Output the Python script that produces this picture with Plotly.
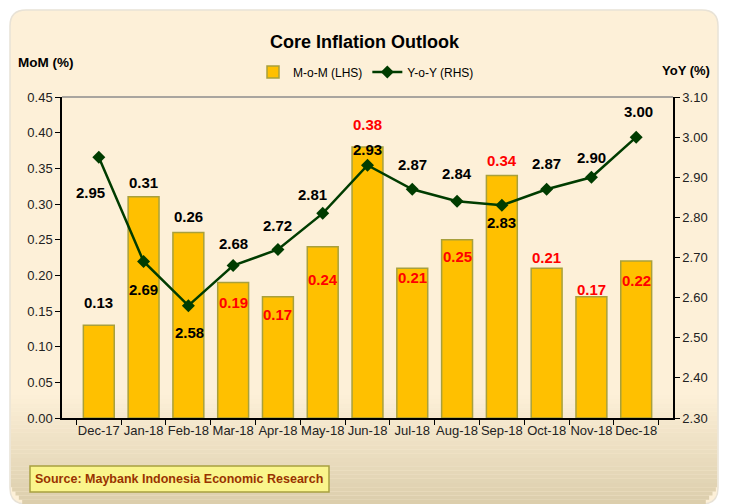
import plotly.graph_objects as go

months = ["Dec-17", "Jan-18", "Feb-18", "Mar-18", "Apr-18", "May-18", "Jun-18",
          "Jul-18", "Aug-18", "Sep-18", "Oct-18", "Nov-18", "Dec-18"]
mom = [0.13, 0.31, 0.26, 0.19, 0.17, 0.24, 0.38, 0.21, 0.25, 0.34, 0.21, 0.17, 0.22]
yoy = [2.95, 2.69, 2.58, 2.68, 2.72, 2.81, 2.93, 2.87, 2.84, 2.83, 2.87, 2.90, 3.00]

mom_label_colors = ["black", "black", "black", "red", "red", "red", "red",
                    "red", "red", "red", "red", "red", "red"]
# label pixel offsets (styling only)
mom_label_dy = [-23, -14, -16, 20, 18, 33, -22, 9, 17, -15, -11, -7, 19]
yoy_label_dx = [-8, 0, 1, 0, 0, -10, 0, 0, 0, 0, 0, 0, 2]
yoy_label_dy = [35, 28, 27, -22, -24, -19, -16, -25, -28, 17, -26, -20, -26]

FONT = "Liberation Sans Narrow, Liberation Sans, Arial, sans-serif"

L, R, T, B = 62, 65, 97, 86
W, H = 738, 504
PW, PH = W - L - R, H - T - B


def px(x):
    return (x - L) / PW


def py(y):
    return (H - B - y) / PH


fig = go.Figure()

fig.add_trace(go.Bar(
    x=months, y=mom, name="M-o-M (LHS)",
    marker=dict(color="#FFC000", line=dict(color="#A8A03C", width=1.5)),
    yaxis="y",
))
fig.add_trace(go.Scatter(
    x=months, y=yoy, name="Y-o-Y (RHS)", mode="lines+markers",
    line=dict(color="#003C00", width=2.5),
    marker=dict(symbol="diamond", size=10, color="#003C00"),
    yaxis="y2",
))

annotations = []
for m, v, c, dy in zip(months, mom, mom_label_colors, mom_label_dy):
    annotations.append(dict(x=m, y=v, xref="x", yref="y", text=f"{v:.2f}",
                            showarrow=False, yshift=-dy, xanchor="center", yanchor="middle",
                            font=dict(family=FONT, size=15, color=c, weight="bold")))
for m, v, dx, dy in zip(months, yoy, yoy_label_dx, yoy_label_dy):
    annotations.append(dict(x=m, y=v, xref="x", yref="y2", text=f"{v:.2f}",
                            showarrow=False, xshift=dx, yshift=-dy,
                            xanchor="center", yanchor="middle",
                            font=dict(family=FONT, size=15, color="black", weight="bold")))

annotations += [
    dict(x=px(365), y=py(42), xref="paper", yref="paper", text="Core Inflation Outlook",
         showarrow=False, xanchor="center", yanchor="middle",
         font=dict(family=FONT, size=18, color="black", weight="bold")),
    dict(x=px(16), y=py(62), xref="paper", yref="paper", text="MoM (%)", xanchor="left",
         yanchor="middle", showarrow=False,
         font=dict(family=FONT, size=13.5, color="black", weight="bold")),
    dict(x=px(712), y=py(70), xref="paper", yref="paper", text="YoY (%)", xanchor="right",
         yanchor="middle", showarrow=False,
         font=dict(family=FONT, size=13, color="black", weight="bold")),
    dict(x=px(179), y=py(479), xref="paper", yref="paper",
         text="Source: Maybank Indonesia Economic Research", xanchor="center",
         yanchor="middle", showarrow=False,
         font=dict(family=FONT, size=12.5, color="#993300", weight="bold")),
]

shapes = []
# card with rounded corners
x0, x1, y0, y1 = px(10), px(718), py(10), py(504)
rx, ry = 16 / PW, 16 / PH
path = (f"M {x0+rx},{y0} L {x1-rx},{y0} Q {x1},{y0} {x1},{y0-ry} "
        f"L {x1},{y1+ry} Q {x1},{y1} {x1-rx},{y1} L {x0+rx},{y1} Q {x0},{y1} {x0},{y1+ry} "
        f"L {x0},{y0-ry} Q {x0},{y0} {x0+rx},{y0} Z")
shapes.append(dict(type="path", xref="paper", yref="paper", path=path,
                   fillcolor="#FDF0D8", line=dict(color="#E8E2D6", width=1.5), layer="below"))
# bottom gradient
top_c = (253, 240, 216)
bot_c = (220, 206, 172)
n = 26
g0, g1 = 395, 504
for i in range(n):
    ya = g0 + (g1 - g0) * i / n
    yb = g0 + (g1 - g0) * (i + 1) / n
    t = (i + 0.5) / n
    col = tuple(int(top_c[k] + (bot_c[k] - top_c[k]) * t) for k in range(3))
    inset = 0
    if yb > 504 - 14:
        inset = 14 - (504 - yb) if yb < 504 else 14
        inset = max(0, min(14, inset)) * 0.8
    shapes.append(dict(type="rect", xref="paper", yref="paper",
                       x0=px(11 + inset), x1=px(717 - inset), y0=py(yb), y1=py(ya),
                       fillcolor="rgb(%d,%d,%d)" % col, line=dict(width=0), layer="below"))
# plot area top border
shapes.append(dict(type="line", xref="paper", yref="paper", x0=0, x1=1, y0=1, y1=1,
                   line=dict(color="#8C8C8C", width=1.5)))
# source box
shapes.append(dict(type="rect", xref="paper", yref="paper",
                   x0=px(30), x1=px(329), y0=py(492), y1=py(466),
                   fillcolor="#FAF58C", line=dict(color="#A8A040", width=1.5)))

fig.update_layout(
    width=W, height=H,
    margin=dict(l=L, r=R, t=T, b=B, autoexpand=False),
    paper_bgcolor="white",
    plot_bgcolor="#FDF0D8",
    font=dict(family=FONT, size=13, color="#222222"),
    bargap=0.31,
    showlegend=True,
    legend=dict(orientation="h", x=px(366), xanchor="center", yref="container",
                y=(H - 72) / H, yanchor="middle",
                bgcolor="rgba(0,0,0,0)", font=dict(family=FONT, size=12, color="black"),
                traceorder="normal"),
    xaxis=dict(type="category", showline=True, linecolor="black", linewidth=1.5,
               ticks="outside", tickson="boundaries", ticklen=5, tickcolor="black",
               tickangle=0, automargin=False,
               tickfont=dict(family=FONT, size=13, color="#222222"), showgrid=False),
    yaxis=dict(range=[0, 0.45], dtick=0.05, tickformat=".2f", showline=True,
               linecolor="black", linewidth=1.5, ticks="outside", ticklen=5,
               tickcolor="black", showgrid=False, zeroline=False, automargin=False,
               tickfont=dict(family=FONT, size=13, color="#222222")),
    yaxis2=dict(range=[2.3, 3.1], dtick=0.1, tickformat=".2f", overlaying="y", side="right",
                showline=True, linecolor="black", linewidth=1.5, ticks="outside",
                ticklen=5, tickcolor="black", showgrid=False, zeroline=False,
                automargin=False,
                tickfont=dict(family=FONT, size=13, color="#222222")),
    annotations=annotations,
    shapes=shapes,
)

fig.write_html("out.html", config={"displayModeBar": False},
               post_script="document.body.style.margin='0';")
